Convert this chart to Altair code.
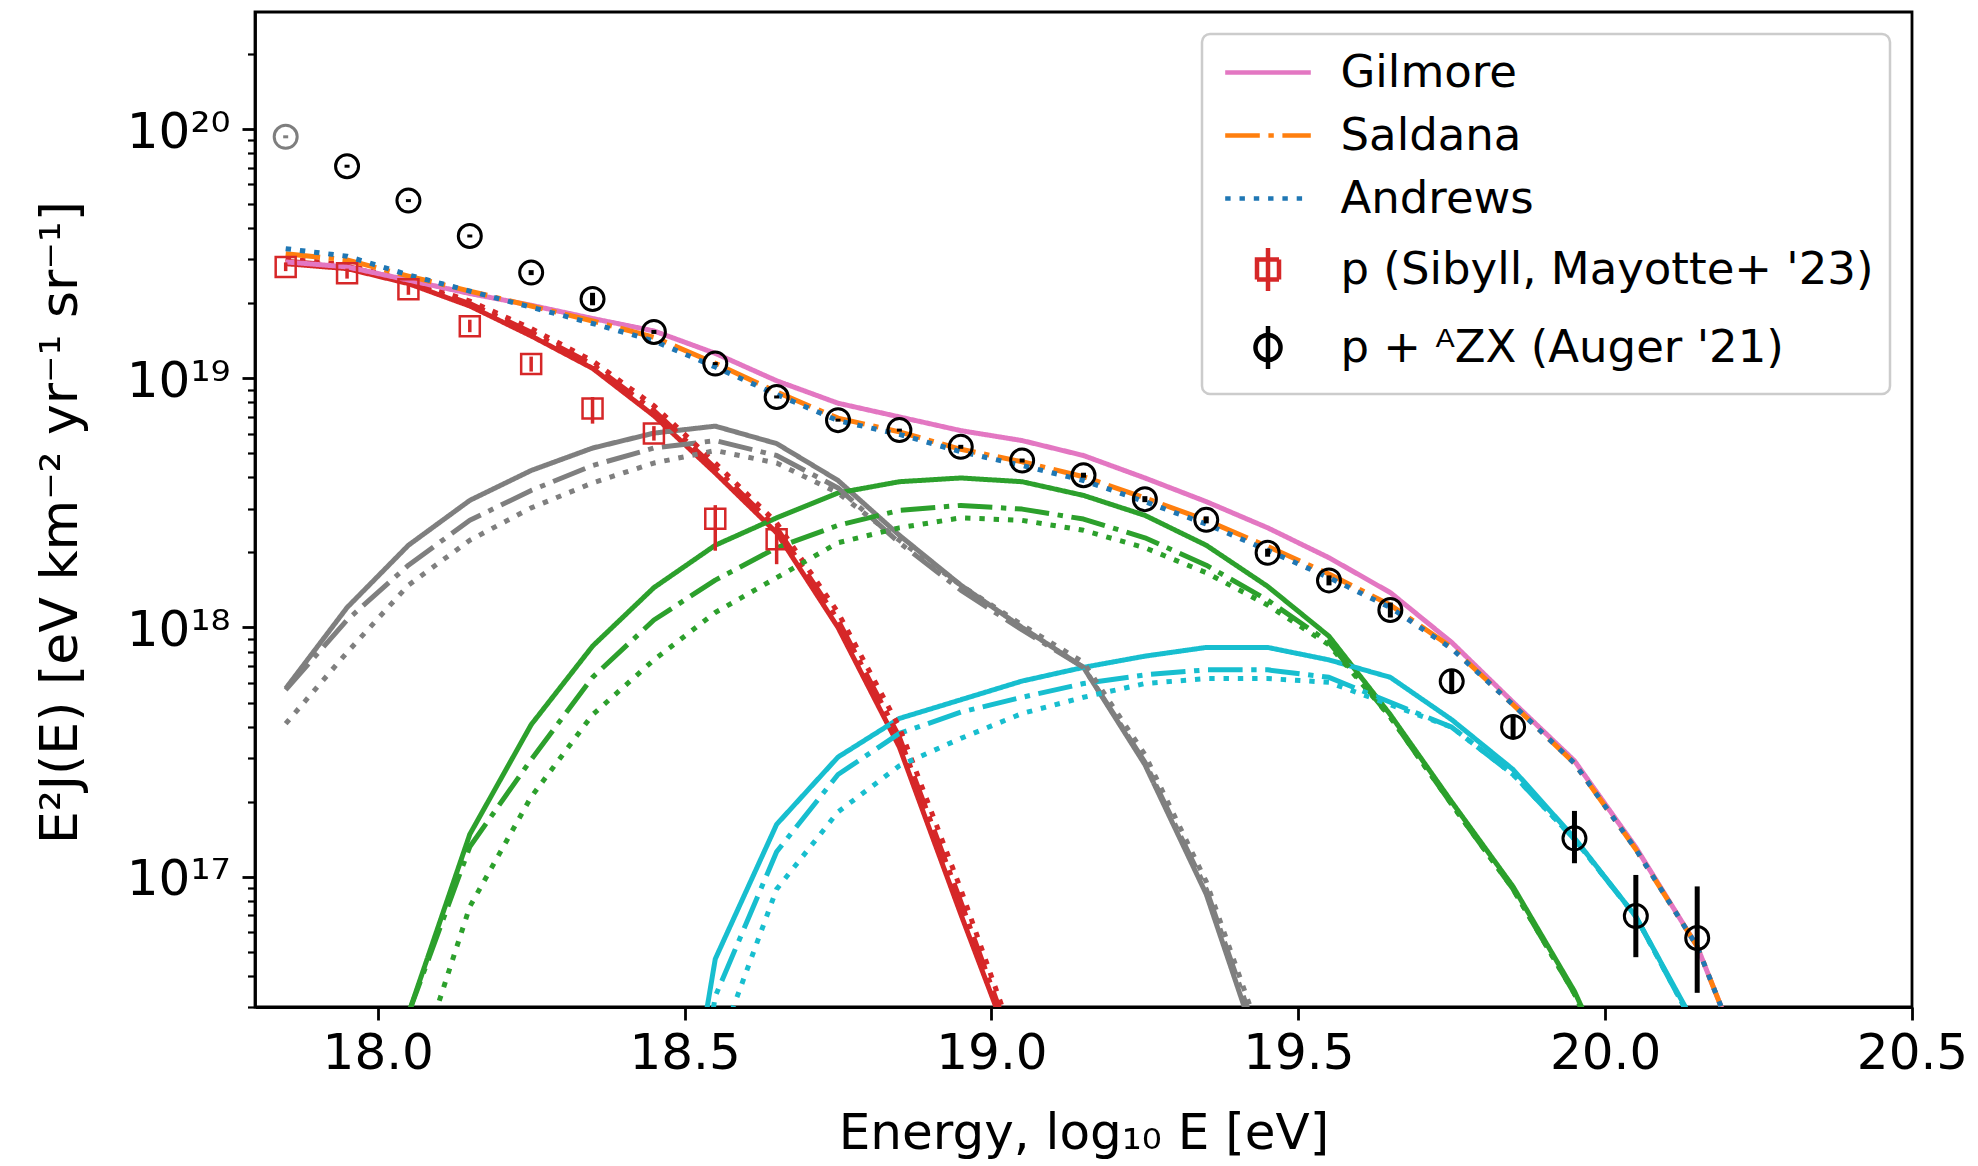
import altair as alt
import pandas as pd

# ---------------- data (log10 values) ----------------
X_MODEL = [17.85, 17.95, 18.05, 18.15, 18.25, 18.35, 18.45, 18.55, 18.65, 18.75,
           18.85, 18.95, 19.05, 19.15, 19.25, 19.35, 19.45, 19.55, 19.65, 19.75,
           19.85, 19.95, 20.05, 20.15, 20.25]
N = None

MODELS = ["Gilmore", "Saldana", "Andrews"]

TOT_GILMORE = [19.467, 19.447, 19.394, 19.34, 19.293, 19.24, 19.19, 19.10, 18.99, 18.90,
               18.845, 18.79, 18.75, 18.69, 18.60, 18.505, 18.40, 18.28, 18.14, 17.94,
               17.70, 17.465, 17.118, 16.72, 16.10]
TOT_SALDANA = [19.50, 19.475, 19.41, 19.35, 19.29, 19.23, 19.165, 19.06, 18.945, 18.84,
               18.785, 18.715, 18.665, 18.605, 18.52, 18.43, 18.325, 18.215, 18.09, 17.92,
               17.69, 17.455, 17.11, 16.72, 16.10]
TOT_ANDREWS = [19.52, 19.49, 19.415, 19.35, 19.285, 19.22, 19.15, 19.045, 18.935, 18.83,
               18.775, 18.705, 18.65, 18.59, 18.505, 18.415, 18.31, 18.20, 18.08, 17.915,
               17.69, 17.455, 17.11, 16.72, 16.10]

RED_G = [19.46, 19.44, 19.38, 19.29, 19.17, 19.04, 18.85, 18.62, 18.38, 18.00,
         17.52, 16.85, 16.20, N, N, N, N, N, N, N, N, N, N, N, N]
RED_S = [19.47, 19.45, 19.385, 19.30, 19.185, 19.055, 18.87, 18.64, 18.40, 18.03,
         17.56, 16.90, 16.22, N, N, N, N, N, N, N, N, N, N, N, N]
RED_A = [19.48, 19.455, 19.39, 19.31, 19.20, 19.07, 18.89, 18.66, 18.42, 18.06,
         17.60, 16.95, 16.25, N, N, N, N, N, N, N, N, N, N, N, N]

GRAY_G = [17.755, 18.08, 18.33, 18.51, 18.63, 18.72, 18.78, 18.808, 18.738, 18.59,
          18.37, 18.17, 18.00, 17.84, 17.45, 16.93, 16.20, N, N, N, N, N, N, N, N]
GRAY_S = [17.75, 18.03, 18.25, 18.43, 18.55, 18.65, 18.72, 18.75, 18.69, 18.56,
          18.34, 18.15, 17.99, 17.84, 17.46, 16.95, 16.24, N, N, N, N, N, N, N, N]
GRAY_A = [17.614, 17.90, 18.17, 18.35, 18.48, 18.58, 18.66, 18.71, 18.66, 18.54,
          18.35, 18.17, 18.01, 17.86, 17.49, 16.98, 16.28, N, N, N, N, N, N, N, N]

GREEN_G = [N, N, 16.45, 17.17, 17.61, 17.925, 18.16, 18.33, 18.44, 18.54,
           18.585, 18.60, 18.585, 18.53, 18.45, 18.33, 18.165, 17.965, 17.65, 17.30,
           16.96, 16.54, 16.0, N, N]
GREEN_S = [N, N, 16.45, 17.12, 17.47, 17.80, 18.03, 18.19, 18.32, 18.41,
           18.47, 18.49, 18.475, 18.435, 18.36, 18.25, 18.11, 17.94, 17.64, 17.29,
           16.95, 16.53, 16.0, N, N]
GREEN_A = [N, N, 16.12, 16.88, 17.32, 17.65, 17.87, 18.06, 18.20, 18.34,
           18.40, 18.44, 18.43, 18.39, 18.32, 18.22, 18.09, 17.93, 17.64, 17.29,
           16.95, 16.53, 16.0, N, N]

CYAN_G = [N, N, N, N, N, N, 15.2, 16.67, 17.21, 17.48,
          17.635, 17.71, 17.785, 17.84, 17.885, 17.92, 17.92, 17.87, 17.80, 17.63,
          17.43, 17.155, 16.84, 16.39, N]
CYAN_S = [N, N, N, N, N, N, 15.0, 16.52, 17.10, 17.41,
          17.575, 17.66, 17.72, 17.775, 17.81, 17.83, 17.83, 17.80, 17.70, 17.60,
          17.41, 17.15, 16.84, 16.38, N]
CYAN_A = [N, N, N, N, N, N, 15.3, 16.28, 16.95, 17.26,
          17.445, 17.555, 17.655, 17.72, 17.775, 17.795, 17.795, 17.78, 17.69, 17.60,
          17.41, 17.15, 16.84, 16.38, N]

# Auger '21 data (p + A/Z X)
AUG_X = [17.85, 17.95, 18.05, 18.15, 18.25, 18.35, 18.45, 18.55, 18.65, 18.75,
         18.85, 18.95, 19.05, 19.15, 19.25, 19.35, 19.45, 19.55, 19.65, 19.75,
         19.85, 19.95, 20.05, 20.15]
AUG_Y = [19.969, 19.851, 19.713, 19.571, 19.424, 19.318, 19.186, 19.059, 18.925, 18.832,
         18.792, 18.725, 18.670, 18.611, 18.515, 18.432, 18.300, 18.189, 18.070, 17.784,
         17.601, 17.154, 16.842, 16.754]
AUG_LO = [19.963, 19.845, 19.707, 19.565, 19.414, 19.293, 19.178, 19.053, 18.919, 18.826,
          18.786, 18.717, 18.662, 18.601, 18.503, 18.418, 18.284, 18.169, 18.040, 17.739,
          17.556, 17.054, 16.677, 16.534]
AUG_HI = [19.975, 19.857, 19.719, 19.577, 19.434, 19.343, 19.194, 19.065, 18.931, 18.838,
          18.798, 18.733, 18.678, 18.621, 18.527, 18.446, 18.316, 18.209, 18.100, 17.829,
          17.646, 17.264, 17.007, 16.961]
AUG_ALPHA = [0.5] + [1.0] * 23

# Sibyll p (Mayotte+ '23)
SIB_X = [17.85, 17.95, 18.05, 18.15, 18.25, 18.35, 18.45, 18.55, 18.65]
SIB_Y = [19.447, 19.421, 19.357, 19.209, 19.057, 18.879, 18.778, 18.436, 18.354]
SIB_LO = [19.43, 19.40, 19.335, 19.185, 19.027, 18.818, 18.75, 18.308, 18.254]
SIB_HI = [19.465, 19.44, 19.38, 19.235, 19.087, 18.925, 18.808, 18.491, 18.41]

SER_SIB = "p (Sibyll, Mayotte+ '23)"
SER_AUG = "p + ᴬZX (Auger '21)"
SERIES = MODELS + [SER_SIB, SER_AUG]
SERIES_COLORS = ["#e377c2", "#ff7f0e", "#1f77b4", "#d62728", "#000000"]

COMPS = ["red", "gray", "green", "cyan"]
COMP_COLORS = ["#d62728", "#7f7f7f", "#2ca02c", "#17becf"]
DASH_SOLID = [1, 0]
DASH_DASHDOT = [34.6, 8.6, 5.4, 8.6]
DASH_DOT = [5.4, 8.9]
MODEL_DASH = [DASH_SOLID, DASH_DASHDOT, DASH_DOT]

# legend symbol paths (units of half the legend symbol side)
SYM_LINE = "M-4.28,0L4.28,0"
SYM_SQ = "M-1.1,-1L1.1,-1L1.1,1L-1.1,1Z M0,-2.15L0,2.15"
SYM_CIRC = "M-1.25,0A1.25,1.25,0,1,0,1.25,0A1.25,1.25,0,1,0,-1.25,0Z M0,-2.15L0,2.15"

# ---------------- tables ----------------
comp_data = {
    "red": [RED_G, RED_S, RED_A],
    "gray": [GRAY_G, GRAY_S, GRAY_A],
    "green": [GREEN_G, GREEN_S, GREEN_A],
    "cyan": [CYAN_G, CYAN_S, CYAN_A],
}
rows = []
for comp in COMPS:
    for model, vals in zip(MODELS, comp_data[comp]):
        for x, v in zip(X_MODEL, vals):
            if v is not None:
                rows.append({"x": x, "y": 10 ** v, "comp": comp, "model": model,
                             "key": comp + "_" + model})
comp_df = pd.DataFrame(rows)

trows = []
for model, vals in zip(MODELS, [TOT_GILMORE, TOT_SALDANA, TOT_ANDREWS]):
    for x, v in zip(X_MODEL, vals):
        trows.append({"x": x, "y": 10 ** v, "series": model})
tot_df = pd.DataFrame(trows)

aug_df = pd.DataFrame({
    "x": AUG_X, "y": [10 ** v for v in AUG_Y], "lo": [10 ** v for v in AUG_LO],
    "hi": [10 ** v for v in AUG_HI], "op": AUG_ALPHA, "series": SER_AUG,
})
sib_df = pd.DataFrame({
    "x": SIB_X, "y": [10 ** v for v in SIB_Y], "lo": [10 ** v for v in SIB_LO],
    "hi": [10 ** v for v in SIB_HI], "series": SER_SIB,
})
legend_df = pd.concat([tot_df[tot_df["x"] == 17.85][["x", "y", "series"]],
                       sib_df[["x", "y", "series"]].head(1),
                       aug_df[["x", "y", "series"]].tail(1)], ignore_index=True)

# ---------------- axes / scales ----------------
FONT = "DejaVu Sans"
majors = [1e17, 1e18, 1e19, 1e20]
minors = [m * 10 ** e for e in range(16, 21) for m in range(2, 10)
          if 3e16 <= m * 10 ** e <= 2.95e20]
major_test = " || ".join(f"datum.value == {v:.0e}" for v in majors)

x_axis = alt.Axis(
    values=[18.0, 18.5, 19.0, 19.5, 20.0, 20.5], format=".1f",
    title="Energy, log₁₀ E [eV]", titleFontSize=50, titleFont=FONT,
    titleFontWeight="normal", titleColor="black", titleY=141,
    titleBaseline="alphabetic",
    labelFontSize=50, labelFont=FONT, labelColor="black", labelPadding=8,
    labelFlush=False, labelOverlap=False,
    tickSize=13, tickWidth=2.8, tickColor="black",
    domainWidth=2.8, domainColor="black", grid=False,
)
y_axis = alt.Axis(
    values=majors + minors,
    labelExpr=("datum.value == 1e17 ? '10¹⁷' : datum.value == 1e18 ? '10¹⁸' : "
               "datum.value == 1e19 ? '10¹⁹' : datum.value == 1e20 ? '10²⁰' : ''"),
    labelFontSize=50, labelFont=FONT, labelColor="black", labelPadding=12,
    labelOverlap=False, labelOffset=3,
    tickSize={"condition": {"test": major_test, "value": 13}, "value": 7.5},
    tickWidth={"condition": {"test": major_test, "value": 2.8}, "value": 2.2},
    tickColor="black", domainWidth=2.8, domainColor="black", grid=False,
    title="E²J(E) [eV km⁻² yr⁻¹ sr⁻¹]", titleFontSize=52, titleFont=FONT,
    titleFontWeight="normal", titleColor="black", titleX=-195, titleY=510,
    titleAlign="center", titleBaseline="middle",
)

YSCALE = alt.Scale(type="log", domain=[3e16, 2.95e20], nice=False)
x_enc = alt.X("x:Q", scale=alt.Scale(domain=[17.8, 20.5], nice=False, zero=False), axis=x_axis)
y_enc = alt.Y("y:Q", scale=YSCALE, axis=y_axis)
ylo_enc = alt.Y("lo:Q", scale=YSCALE, axis=y_axis)

legend = alt.Legend(
    title=None, orient="top-right", offset=22, padding=16,
    fillColor="rgba(255,255,255,0.8)", strokeColor="#cccccc", cornerRadius=8,
    labelFontSize=45, labelFont=FONT, labelColor="black", labelLimit=0,
    symbolSize=400, symbolOffset=27.5, labelOffset=50, rowPadding=17,
    symbolStrokeWidth=4.5, symbolOpacity=1, symbolFillColor="transparent",
)
color_scale = alt.Scale(domain=SERIES, range=SERIES_COLORS)
dash_scale = alt.Scale(domain=SERIES, range=MODEL_DASH + [DASH_SOLID, DASH_SOLID])
shape_scale = alt.Scale(domain=SERIES, range=[SYM_LINE, SYM_LINE, SYM_LINE, SYM_SQ, SYM_CIRC])
comp_stroke = alt.Stroke("comp:N", scale=alt.Scale(domain=COMPS, range=COMP_COLORS), legend=None)

comp_layers = []
for model, dash in zip(MODELS, MODEL_DASH):
    comp_layers.append(
        alt.Chart(comp_df[comp_df["model"] == model]).mark_line(
            strokeWidth=5, clip=True, strokeJoin="round", strokeDash=dash
        ).encode(x=x_enc, y=y_enc, stroke=comp_stroke, detail="key:N")
    )

tot_lines = alt.Chart(tot_df).mark_line(strokeWidth=5, clip=True, strokeJoin="round").encode(
    x=x_enc, y=y_enc,
    color=alt.Color("series:N", scale=color_scale, legend=legend),
    strokeDash=alt.StrokeDash("series:N", scale=dash_scale, legend=legend),
)
legend_pts = alt.Chart(legend_df).mark_point(opacity=0, filled=False, size=1).encode(
    x=x_enc, y=y_enc,
    color=alt.Color("series:N", scale=color_scale, legend=legend),
    shape=alt.Shape("series:N", scale=shape_scale, legend=legend),
)
sib_bars = alt.Chart(sib_df).mark_rule(strokeWidth=3.5, clip=True).encode(
    x=x_enc, y=ylo_enc, y2="hi:Q",
    color=alt.Color("series:N", scale=color_scale, legend=legend),
)
sib_pts = alt.Chart(sib_df).mark_point(shape="square", size=400, filled=False, strokeWidth=2.5,
                                        clip=True, opacity=1).encode(
    x=x_enc, y=y_enc, color=alt.Color("series:N", scale=color_scale, legend=legend),
)
aug_bars = alt.Chart(aug_df).mark_rule(strokeWidth=5, clip=True).encode(
    x=x_enc, y=ylo_enc, y2="hi:Q",
    color=alt.Color("series:N", scale=color_scale, legend=legend),
    opacity=alt.Opacity("op:Q", scale=None, legend=None),
)
aug_pts = alt.Chart(aug_df).mark_point(shape="circle", size=529, filled=False, strokeWidth=3,
                                        clip=True).encode(
    x=x_enc, y=y_enc, color=alt.Color("series:N", scale=color_scale, legend=legend),
    opacity=alt.Opacity("op:Q", scale=None, legend=None),
)

chart = alt.layer(*comp_layers, tot_lines, legend_pts, sib_bars, sib_pts, aug_bars, aug_pts).properties(
    width=1657, height=995,
    autosize=alt.AutoSizeParams(type="none"),
    padding={"left": 255, "top": 12, "right": 66, "bottom": 159},
    background="white",
).configure_view(stroke="black", strokeWidth=2.8).configure_legend(strokeWidth=2.5)

chart.save("out.html", embed_options={"renderer": "svg", "actions": False})
